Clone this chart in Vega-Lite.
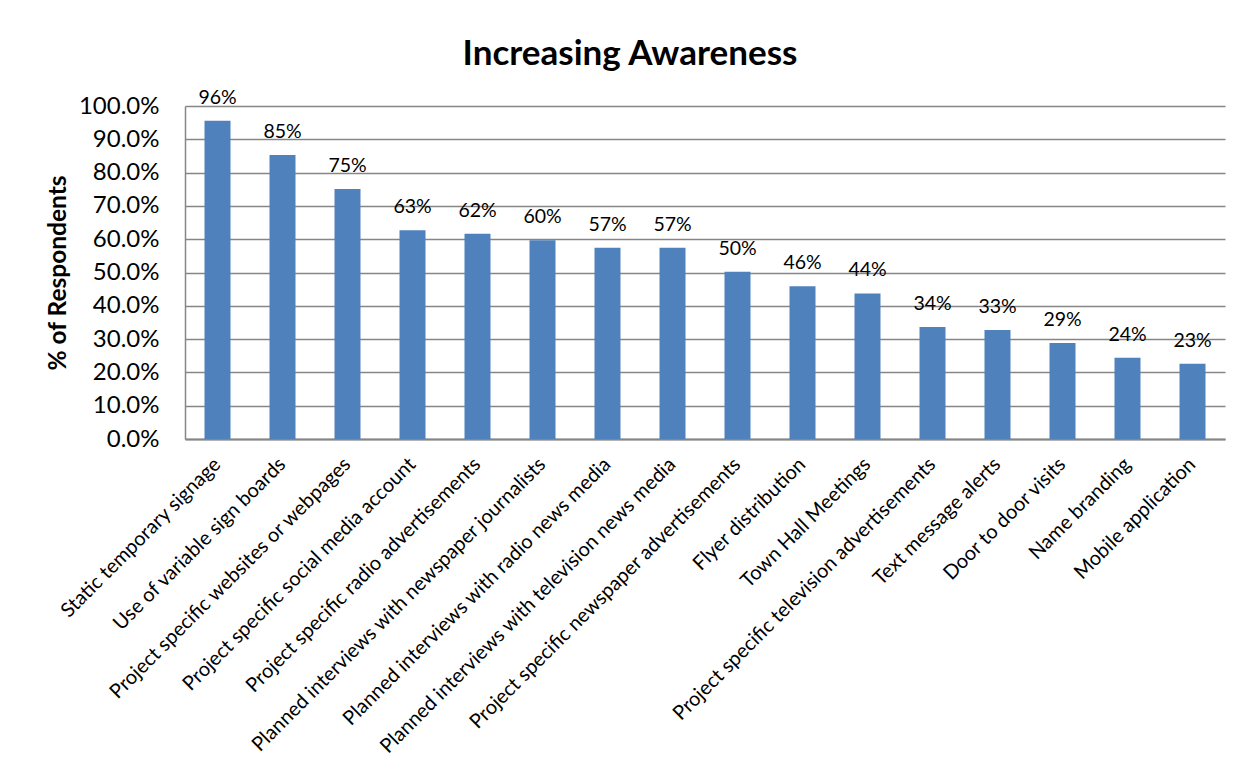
{
  "$schema": "https://vega.github.io/schema/vega-lite/v6.json",
  "width": 1040,
  "height": 333,
  "autosize": "none",
  "padding": {"left": 185, "top": 106, "right": 27, "bottom": 333},
  "background": "white",
  "title": {
    "text": "Increasing Awareness",
    "font": "Lato",
    "fontSize": 35,
    "fontWeight": "bold",
    "color": "black",
    "anchor": "middle",
    "dx": -75,
    "offset": 16
  },
  "data": {
    "values": [
      {"method": "Static temporary signage", "pct": 0.956},
      {"method": "Use of variable sign boards", "pct": 0.853},
      {"method": "Project specific websites or webpages", "pct": 0.751},
      {"method": "Project specific social media account", "pct": 0.627},
      {"method": "Project specific radio advertisements", "pct": 0.616},
      {"method": "Planned interviews with newspaper journalists", "pct": 0.597},
      {"method": "Planned interviews with radio news media", "pct": 0.574},
      {"method": "Planned interviews with television news media", "pct": 0.574},
      {"method": "Project specific newspaper advertisements", "pct": 0.502},
      {"method": "Flyer distribution", "pct": 0.459},
      {"method": "Town Hall Meetings", "pct": 0.437},
      {"method": "Project specific television advertisements", "pct": 0.336},
      {"method": "Text message alerts", "pct": 0.327},
      {"method": "Door to door visits", "pct": 0.288},
      {"method": "Name branding", "pct": 0.244},
      {"method": "Mobile application", "pct": 0.226}
    ]
  },
  "encoding": {
    "x": {
      "field": "method",
      "type": "nominal",
      "sort": null,
      "scale": {"paddingInner": 0.6, "paddingOuter": 0.3},
      "axis": {
        "title": null,
        "labelAngle": -45,
        "labelAlign": "right",
        "labelBaseline": "middle",
        "labelFont": "Lato",
        "labelFontSize": 20,
        "labelColor": "black",
        "labelPadding": 22,
        "labelLimit": 0,
        "labelOverlap": false,
        "ticks": false,
        "domainColor": "#868686",
        "domainWidth": 2
      }
    },
    "y": {
      "field": "pct",
      "type": "quantitative",
      "scale": {"domain": [0, 1]},
      "axis": {
        "title": "% of Respondents",
        "titleFont": "Lato",
        "titleFontSize": 24.5,
        "titleFontWeight": "bold",
        "titleColor": "black",
        "titlePadding": 8,
        "format": ".1%",
        "values": [0, 0.1, 0.2, 0.3, 0.4, 0.5, 0.6, 0.7, 0.8, 0.9, 1.0],
        "labelOverlap": false,
        "labelFont": "Lato",
        "labelFontSize": 24,
        "labelColor": "black",
        "labelPadding": 26,
        "ticks": false,
        "grid": true,
        "gridColor": "#868686",
        "gridWidth": 1.5,
        "domainColor": "#868686",
        "domainWidth": 1.5
      }
    }
  },
  "layer": [
    {"mark": {"type": "bar", "color": "#4F81BD"}},
    {
      "mark": {
        "type": "text",
        "font": "Lato",
        "fontSize": 19.5,
        "color": "black",
        "baseline": "alphabetic",
        "dy": -17
      },
      "encoding": {"text": {"field": "pct", "format": ".0%"}}
    }
  ],
  "config": {"view": {"stroke": null}}
}
